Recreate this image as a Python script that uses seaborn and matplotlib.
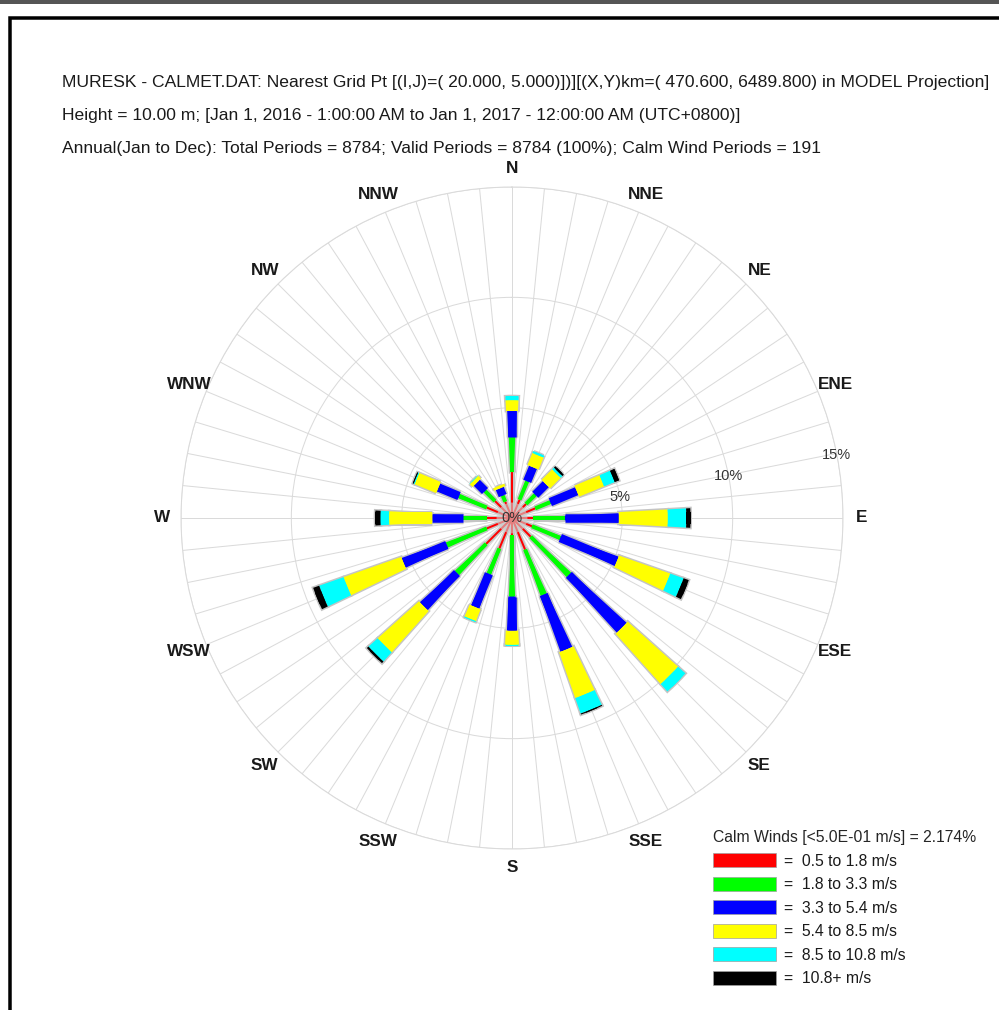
import numpy as np
import matplotlib
matplotlib.use("Agg")
import matplotlib.pyplot as plt
from matplotlib.patches import Patch, Rectangle
from matplotlib.lines import Line2D
import seaborn as sns

sns.set_theme(style="white")
plt.rcParams['font.family'] = ['Liberation Sans', 'DejaVu Sans']

# ---------------------------------------------------------------------------
# data (percent of valid periods)
# ---------------------------------------------------------------------------
directions = ['N', 'NNE', 'NE', 'ENE', 'E', 'ESE', 'SE', 'SSE',
              'S', 'SSW', 'SW', 'WSW', 'W', 'WNW', 'NW', 'NNW']

freq_05_18 = [2.08, 0.90, 0.90, 1.14, 0.95, 0.98, 1.20, 1.55,
              0.77, 1.50, 1.66, 1.24, 1.13, 1.24, 1.09, 0.80]
freq_18_33 = [1.59, 0.90, 0.59, 0.74, 1.45, 1.39, 2.45, 2.21,
              2.79, 1.24, 1.87, 1.96, 1.11, 1.36, 0.64, 0.30]
freq_33_54 = [1.19, 0.69, 0.68, 1.30, 2.44, 2.77, 3.39, 2.69,
              1.55, 1.63, 2.13, 2.12, 1.37, 1.01, 0.53, 0.35]
freq_54_85 = [0.48, 0.59, 0.68, 1.23, 2.22, 2.46, 3.06, 2.20,
              0.64, 0.58, 2.51, 2.77, 1.96, 1.06, 0.18, 0.12]
freq_85_108 = [0.18, 0.09, 0.11, 0.52, 0.84, 0.64, 0.45, 0.74,
               0.03, 0.04, 0.56, 1.17, 0.39, 0.05, 0.02, 0.00]
freq_108p = [0.00, 0.00, 0.09, 0.21, 0.19, 0.25, 0.00, 0.05,
             0.00, 0.00, 0.10, 0.29, 0.24, 0.04, 0.00, 0.00]

speed_labels = ['=  0.5 to 1.8 m/s', '=  1.8 to 3.3 m/s', '=  3.3 to 5.4 m/s',
                '=  5.4 to 8.5 m/s', '=  8.5 to 10.8 m/s', '=  10.8+ m/s']
speed_colors = sns.color_palette(['#ff0000', '#00ff00', '#0000ff',
                                  '#ffff00', '#00ffff', '#000000'])
calm_pct = 2.174
ring_values = [5, 10, 15]

header_lines = [
    'MURESK - CALMET.DAT: Nearest Grid Pt [(I,J)=( 20.000, 5.000)])][(X,Y)km=( 470.600, 6489.800) in MODEL Projection]',
    'Height = 10.00 m; [Jan 1, 2016 - 1:00:00 AM to Jan 1, 2017 - 12:00:00 AM (UTC+0800)]',
    'Annual(Jan to Dec): Total Periods = 8784; Valid Periods = 8784 (100%); Calm Wind Periods = 191',
]

# ---------------------------------------------------------------------------
# figure
# ---------------------------------------------------------------------------
W, H = 999, 1010
PT = 72 / 100  # points per pixel
fig = plt.figure(figsize=(W / 100, H / 100), dpi=100)

cx, cy, rad = 512, 518, 331
ax = fig.add_axes([(cx - rad) / W, (H - cy - rad) / H, 2 * rad / W, 2 * rad / H],
                  projection='polar')
ax.set_theta_zero_location('N')
ax.set_theta_direction(-1)
ax.set_ylim(0, max(ring_values))
ax.set_axisbelow(True)
ax.set_xticks(np.deg2rad(np.arange(0, 360, 360 / 64)))
ax.set_yticks(ring_values)
ax.tick_params(labelbottom=False, labelleft=False)
ax.grid(True, color='#dadada', linewidth=1 * PT)
ax.spines['polar'].set_color('#dadada')
ax.spines['polar'].set_linewidth(1 * PT)

angles = np.deg2rad(np.arange(len(directions)) * 22.5)
classes = [freq_05_18, freq_18_33, freq_33_54, freq_54_85, freq_85_108, freq_108p]
# each segment = wedge (grows with radius) + constant-width core line
dtheta = [0.0, 0.08, 0.09, 0.11, 0.11, 0.11]
core_px = [2, 4, 8.5, 12, 12, 12]
outline = '#c4c4c4'

for layer in ('outline', 'fill'):
    cum = np.zeros(len(directions))
    for vals, col, dth, cw in zip(classes, speed_colors, dtheta, core_px):
        vals = np.asarray(vals)
        m = vals > 0
        lo, hi = cum[m], cum[m] + vals[m]
        if layer == 'outline':
            if dth > 0:
                ax.bar(angles[m], vals[m], width=dth, bottom=lo, color=outline,
                       edgecolor=outline, linewidth=3 * PT, zorder=2)
            lc = ax.vlines(angles[m], lo, hi, colors=outline,
                           linewidth=(cw + 3) * PT, zorder=2)
        else:
            if dth > 0:
                ax.bar(angles[m], vals[m], width=dth, bottom=lo, color=col,
                       linewidth=0, zorder=3)
            lc = ax.vlines(angles[m], lo, hi, colors=[col], linewidth=cw * PT, zorder=3)
        lc.set_capstyle('butt')
        cum += vals

# hub where the spokes converge
ax.bar(0, 0.7, width=2 * np.pi, bottom=0, color='#d2d2d2', alpha=0.6,
       linewidth=0, zorder=4)

# ring labels
for v in [0] + ring_values:
    ax.text(np.deg2rad(79), v, f'{v}%', ha='center', va='center',
            fontsize=10.5, color='#333333', zorder=5)

# direction labels
for ang, name in zip(angles, directions):
    ax.text(ang, 15.85, name, ha='center', va='center', fontsize=12.3,
            fontweight='bold', color='#1a1a1a', clip_on=False)

# header
for i, line in enumerate(header_lines):
    fig.text(62 / W, 1 - (82 + 33.5 * i) / H, line, ha='left', va='center',
             fontsize=12.6, color='#1a1a1a')

# legend
handles = [Patch(facecolor=c, edgecolor='#a0a0a0', linewidth=0.5) for c in speed_colors]
leg = fig.legend(handles, speed_labels, loc='upper left',
                 bbox_to_anchor=(713 / W, 1 - 830 / H), frameon=False,
                 fontsize=11.3, title=f'Calm Winds [<5.0E-01 m/s] = {calm_pct:.3f}%',
                 title_fontsize=11.3, alignment='left', handlelength=4.0,
                 handleheight=1.0, handletextpad=0.55, labelspacing=0.52,
                 borderpad=0, borderaxespad=0)
for t in leg.get_texts():
    t.set_color('#1a1a1a')

# page frame
fig.add_artist(Line2D([0, 1], [1 - 2 / H] * 2, color='#555555', linewidth=4 * PT))
fig.add_artist(Rectangle((9.5 / W, -0.1), 1.2, 1.1 - 18 / H, transform=fig.transFigure,
                         fill=False, edgecolor='black', linewidth=3.5 * PT))

fig.savefig('out.png', dpi=100)
